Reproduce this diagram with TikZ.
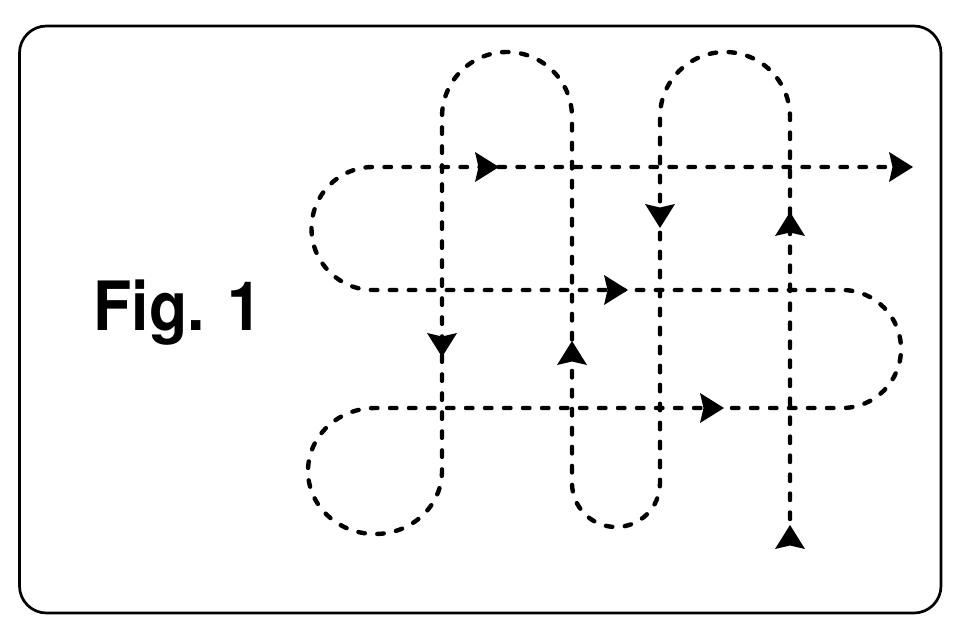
\documentclass[tikz,border=0pt]{standalone}
\usepackage{fontspec}
\setmainfont{TeX Gyre Heros}
\tikzset{
  frame/.style={line width=2.7pt, rounded corners=27pt},
  knot/.style={line width=4.4pt, line cap=round, dash pattern=on 6.5pt off 12.5pt},
  pics/arrowR/.style={code={\fill (12,0) -- (-12,-15) -- (-8.5,0) -- (-12,15) -- cycle;}},
  pics/arrowD/.style={code={\fill (0,12) -- (-15,-12) -- (0,-8.5) -- (15,-12) -- cycle;}},
  pics/arrowU/.style={code={\fill (0,-12) -- (-15,12) -- (0,8.5) -- (15,12) -- cycle;}},
  figlabel/.style={font=\fontsize{68}{80}\selectfont\bfseries, inner sep=0pt, anchor=base}
}
\begin{document}
\begin{tikzpicture}[x=1pt,y=-1pt]
\useasboundingbox (0,0) rectangle (960,640);
\draw[frame] (19.5,26) rectangle (941,613);
\node[figlabel] (fig) at (178,330) {\scalebox{0.92}[1]{Fig. 1}};
% the knot path
\coordinate (start) at (790,519);
\coordinate (finish) at (892,167);
\draw[knot] (start) -- (790,117) arc (0:-180:65)
  -- (660,483) arc (0:180:44)
  -- (572,117) arc (0:-180:65)
  -- (442,471) arc[start angle=0, end angle=270, x radius=67, y radius=63]
  -- (842,408) arc (90:-90:59)
  -- (373,290) arc (90:270:61.5)
  -- (finish);
% arrow marks
\pic at (487,167) {arrowR};
\pic at (616,290) {arrowR};
\pic at (712,408) {arrowR};
\pic at (901,167) {arrowR};
\pic at (660,216) {arrowD};
\pic at (442,345) {arrowD};
\pic at (790,224) {arrowU};
\pic at (572,353) {arrowU};
\pic at (790,537) {arrowU};
\end{tikzpicture}
\end{document}
